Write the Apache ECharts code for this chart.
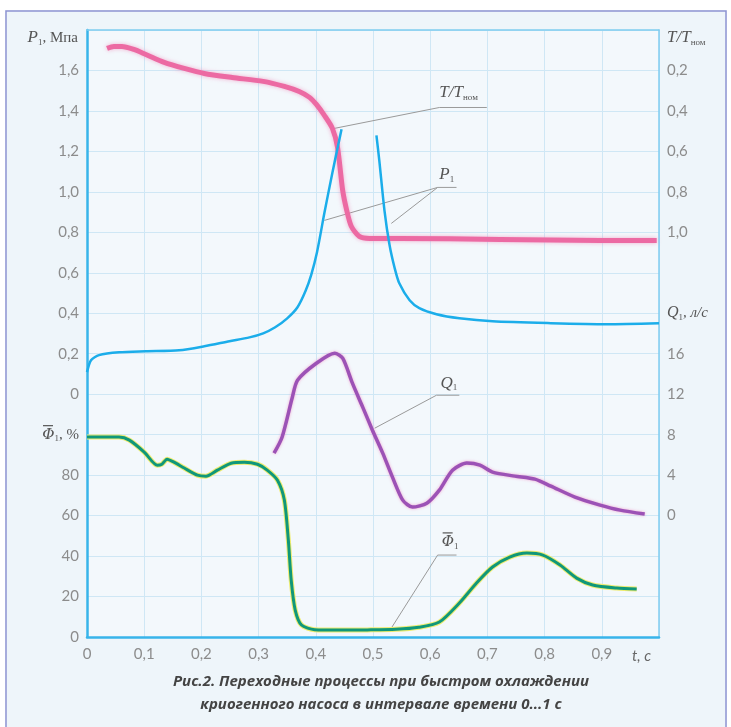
<!DOCTYPE html>
<html>
<head>
<meta charset="utf-8">
<script src="https://cdn.jsdelivr.net/npm/echarts@6/dist/echarts.min.js"></script>
<style>
html, body { margin: 0; padding: 0; background: #fff; }
#chart { width: 731px; height: 727px; }
</style>
</head>
<body>
<div id="chart"></div>
<script>
// time axis ticks
var timeTicks = [0, 0.1, 0.2, 0.3, 0.4, 0.5, 0.6, 0.7, 0.8, 0.9];

// P1, MPa (pink)
var p1Time = [0.035, 0.047, 0.061, 0.082, 0.103, 0.135, 0.170, 0.205, 0.254, 0.308, 0.345, 0.371, 0.389, 0.401, 0.415, 0.429, 0.438, 0.447, 0.454, 0.462, 0.476, 0.494, 0.546, 0.722, 0.897, 0.996];
var p1Value = [1.709, 1.719, 1.719, 1.704, 1.679, 1.640, 1.610, 1.585, 1.565, 1.546, 1.521, 1.496, 1.467, 1.432, 1.378, 1.314, 1.220, 1.007, 0.909, 0.830, 0.780, 0.770, 0.770, 0.765, 0.760, 0.760];

// T/Tnom (blue), two branches
var tLeftTime = [0, 0.007, 0.021, 0.056, 0.103, 0.161, 0.205, 0.249, 0.284, 0.308, 0.329, 0.350, 0.368, 0.382, 0.392, 0.402, 0.415, 0.429, 0.445];
var tLeftValue = [1.691, 1.632, 1.607, 1.593, 1.588, 1.583, 1.563, 1.538, 1.519, 1.499, 1.469, 1.425, 1.370, 1.290, 1.210, 1.100, 0.905, 0.705, 0.490];
var tRightTime = [0.506, 0.511, 0.520, 0.529, 0.538, 0.546, 0.564, 0.581, 0.611, 0.651, 0.709, 0.811, 0.909, 1.0];
var tRightValue = [0.521, 0.644, 0.891, 1.064, 1.178, 1.252, 1.336, 1.375, 1.405, 1.425, 1.440, 1.449, 1.454, 1.449];

// Q1, l/s (purple)
var qTime = [0.327, 0.341, 0.359, 0.368, 0.401, 0.433, 0.447, 0.464, 0.482, 0.499, 0.517, 0.534, 0.552, 0.569, 0.594, 0.616, 0.639, 0.664, 0.687, 0.709, 0.748, 0.783, 0.811, 0.853, 0.897, 0.932, 0.975];
var qValue = [6.17, 7.75, 11.70, 13.38, 15.06, 16.05, 15.56, 13.09, 10.72, 8.44, 6.17, 3.80, 1.53, 0.84, 1.23, 2.52, 4.49, 5.19, 4.99, 4.30, 3.90, 3.60, 2.91, 1.83, 1.04, 0.54, 0.15];

// Phi1, % (green)
var phiTime = [0, 0.056, 0.074, 0.100, 0.123, 0.131, 0.140, 0.152, 0.170, 0.193, 0.208, 0.228, 0.252, 0.275, 0.298, 0.315, 0.333, 0.345, 0.352, 0.357, 0.364, 0.375, 0.398, 0.441, 0.490, 0.540, 0.580, 0.616, 0.651, 0.681, 0.709, 0.739, 0.769, 0.797, 0.827, 0.856, 0.884, 0.926, 0.961];
var phiValue = [98.8, 98.8, 97.3, 91.4, 84.9, 85.4, 87.9, 86.4, 83.5, 80.0, 79.5, 82.5, 85.9, 86.4, 85.4, 82.5, 77.5, 67.7, 47.9, 28.1, 13.3, 5.9, 3.6, 3.4, 3.5, 3.8, 4.8, 7.4, 16.8, 26.7, 34.6, 39.5, 41.5, 40.5, 35.6, 29.1, 25.7, 24.2, 23.7];

function zip(a, b) {
    return a.map(function (x, i) { return [x, b[i]]; });
}
function comma(v) {
    return String(v).replace('.', ',');
}

var chart = echarts.init(document.getElementById('chart'));
var gray = '#8c8c8c';
var labelFont = 'Lato';
var serif = 'Liberation Serif';

var option = {
    backgroundColor: '#eef5fa',
    animation: false,
    grid: {
        left: 87, right: 72, top: 30, bottom: 90,
        show: true, backgroundColor: '#f3f8fc', borderWidth: 0
    },
    xAxis: [{
        type: 'value', min: 0, max: 1, interval: 0.1,
        axisLine: { onZero: false, lineStyle: { color: '#38b4ea', width: 2.5 } },
        axisTick: { show: false },
        splitLine: { lineStyle: { color: '#cfe7f5', width: 1 } },
        axisLabel: {
            color: gray, fontFamily: labelFont, fontSize: 15, margin: 10,
            formatter: function (v) {
                var r = Math.round(v * 10) / 10;
                return timeTicks.indexOf(r) >= 0 ? comma(r) : '';
            }
        }
    }, {
        type: 'value', min: 0, max: 1, position: 'top',
        axisLine: { show: true, onZero: false, lineStyle: { color: '#7fcdf0', width: 1.5 } },
        axisTick: { show: false }, axisLabel: { show: false }, splitLine: { show: false }
    }],
    yAxis: [{
        // P1, MPa
        type: 'value', min: -1.2, max: 1.8, interval: 0.2, position: 'left',
        axisLine: { show: true, onZero: false, lineStyle: { color: '#38b4ea', width: 2.5 } },
        axisTick: { show: false },
        splitLine: { lineStyle: { color: '#cfe7f5', width: 1 } },
        axisLabel: {
            color: gray, fontFamily: labelFont, fontSize: 15, margin: 8,
            formatter: function (v) {
                var r = Math.round(v * 10) / 10;
                if (r < 0 || r > 1.6) return '';
                return r === 0 ? '0' : comma(r.toFixed(1));
            }
        }
    }, {
        // Phi1, %
        type: 'value', min: 0, max: 300, interval: 20, position: 'left',
        axisLine: { show: false }, axisTick: { show: false }, splitLine: { show: false },
        axisLabel: {
            color: gray, fontFamily: labelFont, fontSize: 15, margin: 8,
            formatter: function (v) {
                if (v === 100) return '{q|Φ}{s|1}{n|, %}';
                return v <= 80 ? String(v) : '';
            },
            rich: {
                q: { fontFamily: 'DejaVu Serif', fontStyle: 'italic', fontSize: 15, color: '#555' },
                s: { fontFamily: serif, fontSize: 9, color: '#555', padding: [8, 0, 0, 0] },
                n: { fontFamily: serif, fontSize: 15, color: '#555' }
            }
        }
    }, {
        // T/Tnom, inverted
        type: 'value', min: 0, max: 3, interval: 0.2, inverse: true, position: 'right',
        axisLine: { show: true, onZero: false, lineStyle: { color: '#7fcdf0', width: 1.5 } },
        axisTick: { show: false }, splitLine: { show: false },
        axisLabel: {
            color: gray, fontFamily: labelFont, fontSize: 15, margin: 8,
            formatter: function (v) {
                var r = Math.round(v * 10) / 10;
                if (r < 0.2 || r > 1.0) return '';
                return comma(r.toFixed(1));
            }
        }
    }, {
        // Q1, l/s
        type: 'value', min: -12, max: 48, interval: 4, position: 'right',
        axisLine: { show: false }, axisTick: { show: false }, splitLine: { show: false },
        axisLabel: {
            color: gray, fontFamily: labelFont, fontSize: 15, margin: 8,
            formatter: function (v) {
                if (v === 20) return '{q|Q}{s|1}{n|, л/с}';
                return (v >= 0 && v <= 16) ? String(v) : '';
            },
            rich: {
                q: { fontFamily: serif, fontStyle: 'italic', fontSize: 16, color: '#555' },
                s: { fontFamily: serif, fontSize: 9, color: '#555', padding: [8, 0, 0, 0] },
                n: { fontFamily: serif, fontStyle: 'italic', fontSize: 15, color: '#555' }
            }
        }
    }],
    series: [{
        name: 'P1', type: 'line', yAxisIndex: 0, data: zip(p1Time, p1Value),
        showSymbol: false, smooth: 0.25,
        lineStyle: { color: '#ec6aa3', width: 5, shadowColor: 'rgba(240,130,180,0.6)', shadowBlur: 4 }
    }, {
        name: 'T/Tnom', type: 'line', yAxisIndex: 2, data: zip(tLeftTime, tLeftValue),
        showSymbol: false, smooth: 0.25,
        lineStyle: { color: '#1badea', width: 2.5 }
    }, {
        name: 'T/Tnom', type: 'line', yAxisIndex: 2, data: zip(tRightTime, tRightValue),
        showSymbol: false, smooth: 0.25,
        lineStyle: { color: '#1badea', width: 2.5 }
    }, {
        name: 'Q1', type: 'line', yAxisIndex: 3, data: zip(qTime, qValue),
        showSymbol: false, smooth: 0.25,
        lineStyle: { color: '#9c52b6', width: 3.5, shadowColor: 'rgba(240,130,190,0.7)', shadowBlur: 3 }
    }, {
        name: 'Phi1 halo', type: 'line', yAxisIndex: 1, data: zip(phiTime, phiValue),
        showSymbol: false, smooth: 0.25,
        lineStyle: { color: '#efec70', width: 5 }
    }, {
        name: 'Phi1', type: 'line', yAxisIndex: 1, data: zip(phiTime, phiValue),
        showSymbol: false, smooth: 0.25,
        lineStyle: { color: '#10977a', width: 3 }
    }]
};
chart.setOption(option);

// leader lines for the curve labels, in data coordinates (axis index, points)
var leaders = [
    { axis: 0, pts: [[0.433, 1.314], [0.616, 1.417], [0.699, 1.417]] },
    { axis: 0, pts: [[0.415, 0.859], [0.613, 1.022], [0.646, 1.022]] },
    { axis: 0, pts: [[0.532, 0.844], [0.613, 1.022]] },
    { axis: 3, pts: [[0.503, 8.64], [0.611, 11.9], [0.651, 11.9]] },
    { axis: 1, pts: [[0.532, 4.4], [0.613, 40.5], [0.646, 40.5]] }
];
var tags = [
    { axis: 0, at: [0.616, 1.49], text: '{i|T/T}{s|ном}' },
    { axis: 0, at: [0.616, 1.085], text: '{i|P}{s|1}' },
    { axis: 3, at: [0.618, 13.1], text: '{i|Q}{s|1}' },
    { axis: 1, at: [0.620, 47], text: '{f|Φ}{s|1}', bar: true }
];
function px(axis, p) {
    return chart.convertToPixel({ xAxisIndex: 0, yAxisIndex: axis }, p);
}
var tagRich = {
    i: { fontFamily: serif, fontStyle: 'italic', fontSize: 17, fill: '#555' },
    f: { fontFamily: 'DejaVu Serif', fontStyle: 'italic', fontSize: 15, fill: '#555' },
    s: { fontFamily: serif, fontSize: 9, fill: '#555', padding: [9, 0, 0, 0] }
};
function overbar(x, y) {
    return { type: 'line', silent: true, shape: { x1: x, y1: y, x2: x + 10, y2: y }, style: { stroke: '#555', lineWidth: 1.2 } };
}
var phiLabel = px(1, [0, 100]);
var graphics = [
    { type: 'rect', shape: { x: 6, y: 11, width: 720, height: 740 }, style: { fill: null, stroke: '#8e94d2', lineWidth: 1.5 }, silent: true },
    { type: 'rect', shape: { x: 0, y: 0, width: 5, height: 727 }, style: { fill: '#fff' }, silent: true },
    { type: 'rect', shape: { x: 0, y: 0, width: 731, height: 10 }, style: { fill: '#fff' }, silent: true },
    { type: 'rect', shape: { x: 727, y: 0, width: 4, height: 727 }, style: { fill: '#fff' }, silent: true },
    overbar(phiLabel[0] - 44, phiLabel[1] - 9),
    { type: 'text', x: 78, y: 38, style: { text: '{i|P}{s|1}{n|, Мпа}', align: 'right', verticalAlign: 'middle',
        rich: { i: tagRich.i, s: tagRich.s, n: { fontFamily: serif, fontSize: 15, fill: '#555' } } } },
    { type: 'text', x: 667, y: 38, style: { text: '{i|T/T}{s|ном}', align: 'left', verticalAlign: 'middle', rich: tagRich } },
    { type: 'text', x: 632, y: 656, style: { text: 't, c', align: 'left', verticalAlign: 'middle',
        fontFamily: labelFont, fontStyle: 'italic', fontSize: 15, fill: '#666' } },
    { type: 'text', x: 381, y: 682, style: { text: 'Рис.2. Переходные процессы при быстром охлаждении', align: 'center', verticalAlign: 'middle',
        fontFamily: 'Open Sans', fontStyle: 'italic', fontWeight: 'bold', fontSize: 15, fill: '#444' } },
    { type: 'text', x: 381, y: 705, style: { text: 'криогенного насоса в интервале времени 0...1 с', align: 'center', verticalAlign: 'middle',
        fontFamily: 'Open Sans', fontStyle: 'italic', fontWeight: 'bold', fontSize: 15, fill: '#444' } }
];
leaders.forEach(function (l) {
    graphics.push({
        type: 'polyline', silent: true,
        shape: { points: l.pts.map(function (p) { return px(l.axis, p); }) },
        style: { stroke: '#9a9a9a', lineWidth: 1, fill: null }
    });
});
tags.forEach(function (t) {
    var p = px(t.axis, t.at);
    graphics.push({ type: 'text', x: p[0], y: p[1], style: { text: t.text, align: 'left', verticalAlign: 'middle', rich: tagRich } });
    if (t.bar) graphics.push(overbar(p[0] + 1, p[1] - 9));
});
chart.setOption({ graphic: graphics });
</script>
</body>
</html>
